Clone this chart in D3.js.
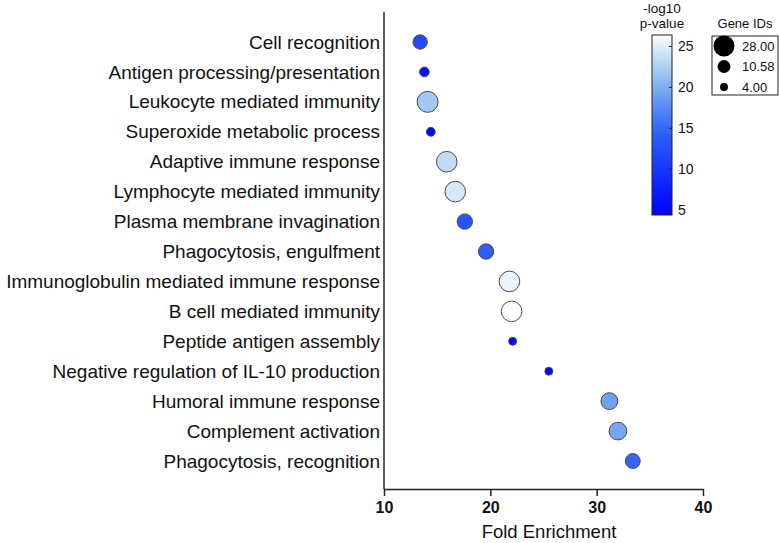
<!DOCTYPE html>
<html><head><meta charset="utf-8">
<script src="https://cdn.jsdelivr.net/npm/d3@7"></script>
<style>body{margin:0;background:#fff}svg{font-family:"Liberation Sans",Arial,sans-serif}</style>
</head><body>
<script>
const terms = ["Cell recognition","Antigen processing/presentation","Leukocyte mediated immunity","Superoxide metabolic process","Adaptive immune response","Lymphocyte mediated immunity","Plasma membrane invagination","Phagocytosis, engulfment","Immunoglobulin mediated immune response","B cell mediated immunity","Peptide antigen assembly","Negative regulation of IL-10 production","Humoral immune response","Complement activation","Phagocytosis, recognition"];
const foldEnrichment = [13.4,13.8,14.1,14.4,15.9,16.7,17.6,19.6,21.8,22.0,22.1,25.5,31.2,32.0,33.4];
const geneIDs = [13,6,28,5,27,27,15,15,27,27,4,4,18,20,14];
const negLog10P = [12,6,22,5,23.5,24.5,13,14,25.5,26.4,5,5,19,19.5,15];
const xTicks = [10,20,30,40];
const colorTicks = [5,10,15,20,25];
const sizeLegend = [28.00,10.58,4.00];

const W=779,H=543;
const svg=d3.select("body").append("svg").attr("width",W).attr("height",H);
const x=d3.scaleLinear().domain([10,40]).range([384,703]);
const y=d3.scalePoint().domain(terms).range([42,461]);
const r=d3.scaleSqrt().domain([0,28]).range([0,10.5]);
const cDomain=[4.4,26.4];
const color=d3.scaleLinear().domain([4.4,10,15,20,23,26.4]).range(["#0000ff","#1536ff","#3566f6","#7eaef0","#b5d5f5","#ffffff"]).interpolate(d3.interpolateRgb);

// axes
const xa=svg.append("g").attr("transform","translate(0,489)").call(d3.axisBottom(x).tickValues(xTicks).tickSize(7).tickSizeOuter(0));
xa.select(".domain").attr("stroke","#222").attr("stroke-width",1.5);
xa.selectAll(".tick line").attr("stroke","#222").attr("stroke-width",1.5);
xa.selectAll(".tick text").attr("font-size",16).attr("font-weight","bold").attr("fill","#111").attr("y",24).attr("dy",0).attr("font-family","Liberation Sans, Arial, sans-serif");
const ya=svg.append("g").attr("transform","translate(384,0)").call(d3.axisLeft(y).tickSize(0));
ya.select(".domain").remove();
svg.append("line").attr("x1",384).attr("x2",384).attr("y1",12).attr("y2",489).attr("stroke","#222").attr("stroke-width",1.5);
ya.selectAll(".tick text").attr("font-size",19).attr("fill","#111").attr("x",-4).attr("font-family","Liberation Sans, Arial, sans-serif");

svg.append("text").attr("x",549).attr("y",538).attr("text-anchor","middle").attr("font-size",18.5).attr("fill","#111").text("Fold Enrichment");

// points
svg.append("g").selectAll("circle").data(terms).join("circle")
  .attr("cx",(d,i)=>x(foldEnrichment[i])).attr("cy",d=>y(d))
  .attr("r",(d,i)=>r(geneIDs[i]))
  .attr("fill",(d,i)=>color(negLog10P[i]))
  .attr("stroke","#4a4a4a").attr("stroke-width",1);

// color bar
const defs=svg.append("defs");
const grad=defs.append("linearGradient").attr("id","cg").attr("x1",0).attr("x2",0).attr("y1",1).attr("y2",0);
d3.range(0,1.0001,0.05).forEach(t=>{
  const v=cDomain[0]+t*(cDomain[1]-cDomain[0]);
  grad.append("stop").attr("offset",t).attr("stop-color",color(v));
});
const cy=d3.scaleLinear().domain(cDomain).range([215,35]);
svg.append("rect").attr("x",652).attr("y",35).attr("width",20).attr("height",180).attr("fill","url(#cg)").attr("stroke","#222").attr("stroke-width",1);
const ca=svg.append("g").attr("transform","translate(672,0)").call(d3.axisRight(cy).tickValues(colorTicks).tickSize(0).tickPadding(6));
ca.select(".domain").remove();
ca.selectAll(".tick text").attr("font-size",14).attr("fill","#111").attr("font-family","Liberation Sans, Arial, sans-serif");
svg.append("g").selectAll("line").data(colorTicks).join("line")
  .attr("x1",669).attr("x2",672).attr("y1",d=>cy(d)).attr("y2",d=>cy(d)).attr("stroke","#222");
svg.append("text").attr("x",662).attr("y",13).attr("text-anchor","middle").attr("font-size",13.5).attr("fill","#111").text("-log10");
svg.append("text").attr("x",662).attr("y",28).attr("text-anchor","middle").attr("font-size",13.5).attr("fill","#111").text("p-value");

// size legend
svg.append("text").attr("x",745).attr("y",28).attr("text-anchor","middle").attr("font-size",13).attr("fill","#111").text("Gene IDs");
svg.append("rect").attr("x",712).attr("y",36).attr("width",66).attr("height",59).attr("fill","none").attr("stroke","#222");
const ly=d3.scalePoint().domain(sizeLegend).range([46,87]);
const lg=svg.append("g").selectAll("g").data(sizeLegend).join("g").attr("transform",d=>`translate(724,${ly(d)})`);
lg.append("circle").attr("r",d=>r(d)).attr("fill","#000");
lg.append("text").attr("x",18).attr("dy","0.35em").attr("font-size",13).attr("fill","#111").text(d=>d.toFixed(2));
</script>
</body></html>
